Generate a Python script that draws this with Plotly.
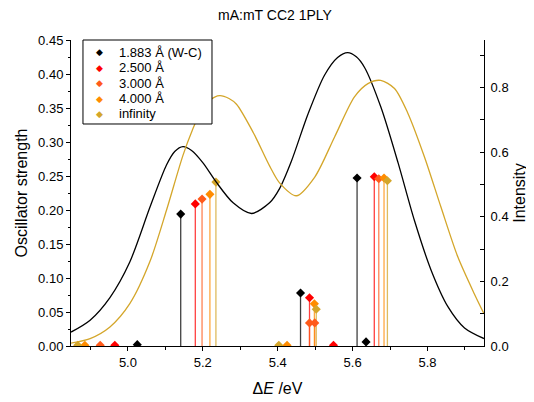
import plotly.graph_objects as go

# ---- data ----
series_names = ["1.883 Å (W-C)", "2.500 Å", "3.000 Å", "4.000 Å", "infinity"]
series_colors = ["#000000", "#FF0000", "#FF5A1A", "#FF8C00", "#D4A62A"]

e_1883 = [5.025, 5.141, 5.461, 5.612, 5.636]
f_1883 = [0.002, 0.194, 0.078, 0.247, 0.006]

e_2500 = [4.965, 5.180, 5.485, 5.549, 5.658]
f_2500 = [0.001, 0.209, 0.071, 0.001, 0.249]

e_3000 = [4.926, 5.198, 5.485, 5.499, 5.670]
f_3000 = [0.001, 0.216, 0.034, 0.034, 0.246]

e_4000 = [4.885, 5.219, 5.425, 5.498, 5.684]
f_4000 = [0.001, 0.223, 0.001, 0.062, 0.247]

e_inf = [4.866, 5.235, 5.403, 5.503, 5.693]
f_inf = [0.001, 0.241, 0.001, 0.054, 0.243]

# broadened spectra (Intensity, right axis)
curve_e_1883 = [4.848, 4.899, 4.952, 5.005, 5.059, 5.103, 5.125, 5.147, 5.170, 5.201, 5.236,
                5.281, 5.330, 5.379, 5.405, 5.436, 5.481, 5.525, 5.560, 5.587, 5.610,
                5.632, 5.676, 5.722, 5.765, 5.810, 5.855, 5.899, 5.951]
curve_i_1883 = [0.043, 0.080, 0.150, 0.260, 0.430, 0.560, 0.602, 0.617, 0.605, 0.566, 0.507,
                0.443, 0.410, 0.444, 0.487, 0.570, 0.718, 0.838, 0.893, 0.908, 0.895,
                0.862, 0.738, 0.565, 0.389, 0.234, 0.121, 0.056, 0.023]

curve_e_inf = [4.848, 4.899, 4.952, 5.005, 5.059, 5.103, 5.147, 5.172, 5.195, 5.220, 5.245,
               5.270, 5.290, 5.335, 5.379, 5.405, 5.450, 5.499, 5.552, 5.605, 5.641,
               5.675, 5.712, 5.747, 5.792, 5.836, 5.881, 5.925, 5.951]
curve_i_inf = [0.009, 0.023, 0.059, 0.131, 0.262, 0.420, 0.590, 0.668, 0.726, 0.762, 0.775,
               0.766, 0.748, 0.660, 0.556, 0.505, 0.465, 0.523, 0.647, 0.771, 0.812,
               0.822, 0.797, 0.722, 0.585, 0.430, 0.276, 0.162, 0.100]

sticks = [(e_1883, f_1883), (e_2500, f_2500), (e_3000, f_3000), (e_4000, f_4000), (e_inf, f_inf)]

FONT = "Arial, Liberation Sans, sans-serif"

fig = go.Figure()

# curves
fig.add_trace(go.Scatter(x=curve_e_1883, y=curve_i_1883, mode="lines", yaxis="y2",
                         line=dict(color=series_colors[0], width=1.3, shape="spline", smoothing=0.8),
                         showlegend=False, hoverinfo="skip"))
fig.add_trace(go.Scatter(x=curve_e_inf, y=curve_i_inf, mode="lines", yaxis="y2",
                         line=dict(color=series_colors[4], width=1.3, shape="spline", smoothing=0.8),
                         showlegend=False, hoverinfo="skip"))

# stems
for (es, fs), col in zip(sticks, series_colors):
    xs, ys = [], []
    for e, f in zip(es, fs):
        xs += [e, e, None]
        ys += [0, f, None]
    fig.add_trace(go.Scatter(x=xs, y=ys, mode="lines", line=dict(color=col, width=1.3),
                             opacity=0.75, showlegend=False, hoverinfo="skip"))

# markers
for (es, fs), col, name in zip(sticks, series_colors, series_names):
    fig.add_trace(go.Scatter(x=es, y=fs, mode="markers", name=name, showlegend=False,
                             marker=dict(symbol="diamond", size=7, color=col, line=dict(width=0))))

# ---- manual legend (compact, as in the reference) ----
leg_x0, leg_x1, leg_top, leg_bottom = 0.029, 0.3414, 1.0, 0.7255
leg_rows = [0.9598, 0.9095, 0.8585, 0.8082, 0.7582]
shapes = [dict(type="rect", xref="paper", yref="paper", x0=leg_x0, x1=leg_x1,
               y0=leg_bottom, y1=leg_top, line=dict(color="black", width=1),
               fillcolor="white", layer="above")]
annotations = []
for name, col, yy in zip(series_names, series_colors, leg_rows):
    annotations.append(dict(xref="paper", yref="paper", x=0.0678, y=yy, text="◆",
                            showarrow=False, xanchor="center", yanchor="middle",
                            font=dict(size=9, color=col, family="DejaVu Sans")))
    annotations.append(dict(xref="paper", yref="paper", x=0.1114, y=yy, text=name,
                            showarrow=False, xanchor="left", yanchor="middle",
                            font=dict(size=13, color="black", family=FONT)))

fig.update_layout(
    width=526, height=394,
    margin=dict(l=63, r=50, t=32, b=56, autoexpand=False),
    paper_bgcolor="white", plot_bgcolor="white",
    font=dict(family=FONT, size=13, color="black"),
    showlegend=False,
    title=dict(text="mA:mT CC2 1PLY", x=0.5076, xanchor="center", y=0.982, yanchor="middle",
               font=dict(size=14, family=FONT)),
    xaxis=dict(range=[4.848, 5.951], tick0=5.0, dtick=0.2, tickformat=".1f", automargin=False,
               showline=True, linecolor="black", linewidth=1, mirror=False,
               ticks="outside", ticklen=4, tickcolor="black", showgrid=False, zeroline=False,
               minor=dict(dtick=0.1, ticks="outside", ticklen=3, tickcolor="black", showgrid=False),
               tickfont=dict(size=13),
               title=dict(text="Δ<i>E</i> /eV", font=dict(size=16), standoff=14)),
    yaxis=dict(range=[0, 0.45], dtick=0.05, tickformat=".2f", automargin=False,
               showline=True, linecolor="black", linewidth=1,
               ticks="outside", ticklen=4, tickcolor="black", showgrid=False, zeroline=False,
               minor=dict(dtick=0.025, ticks="outside", ticklen=2, tickcolor="black", showgrid=False),
               tickfont=dict(size=13),
               title=dict(text="Oscillator strength", font=dict(size=16), standoff=6)),
    yaxis2=dict(range=[0, 0.947], dtick=0.2, tickformat=".1f", overlaying="y", side="right",
                automargin=False,
                showline=True, linecolor="black", linewidth=1,
                ticks="inside", ticklen=4, tickcolor="black", showgrid=False, zeroline=False,
                minor=dict(dtick=0.1, ticks="inside", ticklen=4, tickcolor="black", showgrid=False),
                tickfont=dict(size=13), ticklabelstandoff=3,
                title=dict(text="Intensity", font=dict(size=16), standoff=6)),
    shapes=shapes,
    annotations=annotations,
)

fig.write_html("out.html")
